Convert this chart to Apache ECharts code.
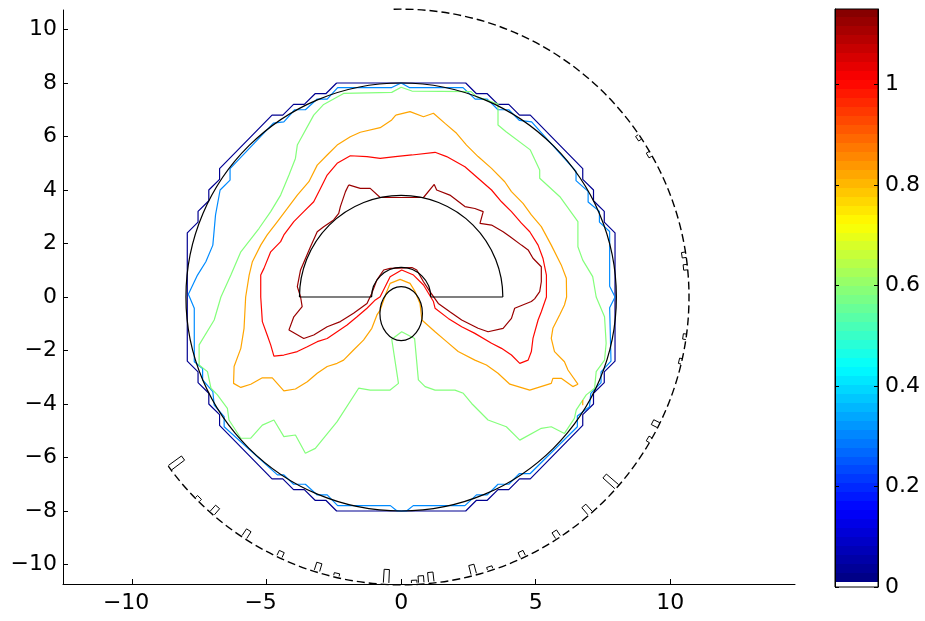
<!DOCTYPE html>
<html>
<head>
<meta charset="utf-8">
<script src="https://cdn.jsdelivr.net/npm/echarts@6/dist/echarts.min.js"></script>
<style>
html, body { margin: 0; padding: 0; background: #fff; }
#main { width: 925px; height: 621px; }
</style>
</head>
<body>
<div id="main"></div>
<script>
// tick labels
var xTicks = [-10, -5, 0, 5, 10];
var yTicks = [-10, -8, -6, -4, -2, 0, 2, 4, 6, 8, 10];
var cbTicks = [0, 0.2, 0.4, 0.6, 0.8, 1];
var cbRange = [0, 1.15];

// contour levels (colour comes from the colormap)
var levels = [0.02, 0.3, 0.58, 0.82, 1.0, 1.12];

// contour lines
var navyLine = [[-2.4,8.0],[2.4,8.0],[2.8,7.6],[3.2,7.6],[3.6,7.2],[4.0,7.2],[4.4,6.8],[4.8,6.8],[6.75,4.8],[6.75,4.4],[7.15,4.0],[7.15,3.6],[7.55,3.2],[7.55,2.8],[7.95,2.4],[7.95,-2.4],[7.55,-2.8],[7.55,-3.2],[7.15,-3.6],[7.15,-4.0],[6.75,-4.4],[6.75,-4.8],[4.8,-6.8],[4.4,-6.8],[4.0,-7.2],[3.6,-7.2],[3.2,-7.6],[2.8,-7.6],[2.4,-8.0],[-2.4,-8.0],[-2.8,-7.6],[-3.2,-7.6],[-3.6,-7.2],[-4.0,-7.2],[-4.4,-6.8],[-4.8,-6.8],[-6.75,-4.8],[-6.75,-4.4],[-7.15,-4.0],[-7.15,-3.6],[-7.55,-3.2],[-7.55,-2.8],[-7.95,-2.4],[-7.95,2.4],[-7.55,2.8],[-7.55,3.2],[-7.15,3.6],[-7.15,4.0],[-6.75,4.4],[-6.75,4.8],[-4.8,6.8],[-4.4,6.8],[-4.0,7.2],[-3.6,7.2],[-3.2,7.6],[-2.8,7.6],[-2.4,8.0]];

var blueLine = [[0,8.0],[0.3,7.83],[2.3,7.83],[2.75,7.4],[3.2,7.4],[3.6,7.0],[4.0,7.0],[4.4,6.6],[4.85,6.55],[6.5,4.7],[6.5,4.35],[6.95,3.95],[6.95,3.55],[7.37,3.2],[7.37,2.8],[7.75,2.45],[7.75,0.4],[7.95,0],[7.75,-0.4],[7.8,-2.4],[7.43,-2.8],[7.43,-3.2],[7.05,-3.6],[7.0,-4.1],[6.55,-4.45],[6.55,-4.85],[4.8,-6.6],[4.4,-6.6],[4.0,-7.0],[3.6,-7.0],[3.2,-7.4],[2.8,-7.4],[2.37,-7.8],[0.45,-7.8],[0.2,-8.0],[-0.15,-8.0],[-0.4,-7.8],[-2.36,-7.8],[-2.75,-7.4],[-3.12,-7.4],[-3.56,-7.0],[-4.0,-7.0],[-4.36,-6.65],[-4.6,-6.65],[-6.58,-4.85],[-6.58,-4.47],[-6.95,-4.04],[-7.0,-3.54],[-7.38,-3.1],[-7.38,-2.67],[-7.69,-2.42],[-7.69,-0.42],[-7.91,0.1],[-7.57,0.82],[-7.26,1.32],[-7.0,1.94],[-6.9,3.07],[-6.73,4.0],[-6.36,4.37],[-6.36,4.8],[-4.75,6.5],[-4.36,6.55],[-3.96,7.0],[-3.56,7.0],[-3.12,7.4],[-2.75,7.4],[-2.36,7.83],[-0.35,7.83],[0,8.0]];

var greenLine = [[0,7.84],[0.4,7.7],[2.6,7.68],[2.8,7.49],[3.6,7.21],[3.6,6.43],[3.9,6.18],[4.8,5.5],[5.15,4.75],[5.15,4.44],[5.9,3.75],[6.57,2.82],[6.57,1.88],[6.75,1.38],[7.12,0.76],[7.25,0],[7.56,-0.74],[7.62,-1.73],[7.56,-2.36],[7.25,-2.79],[7.19,-3.41],[6.88,-3.66],[6.51,-4.22],[6.44,-4.54],[6.07,-5.1],[5.58,-4.85],[5.21,-4.91],[4.41,-5.35],[3.91,-4.85],[3.23,-4.6],[2.62,-3.98],[2.31,-3.6],[2.0,-3.48],[1.26,-3.48],[0.89,-3.35],[0.64,-3.1],[0.5,-1.55],[0.02,-1.3],[-0.35,-1.58],[-0.1,-3.23],[-0.41,-3.48],[-1.15,-3.48],[-1.58,-3.41],[-2.38,-4.66],[-3.19,-5.66],[-3.56,-5.84],[-3.93,-5.16],[-4.36,-5.22],[-4.73,-4.6],[-5.16,-4.79],[-5.59,-5.28],[-5.96,-5.28],[-6.4,-4.6],[-6.46,-4.16],[-6.83,-3.66],[-7.07,-3.41],[-7.2,-2.79],[-7.51,-2.54],[-7.51,-1.79],[-6.95,-0.86],[-6.7,0],[-6.33,0.82],[-5.96,1.69],[-5.28,2.57],[-4.85,3.19],[-4.48,3.81],[-4.17,4.56],[-3.93,5.18],[-3.86,5.68],[-3.25,6.8],[-2.88,7.2],[-2.14,7.61],[-0.35,7.65],[0,7.84]];

var orangeLine = [[-0.2,6.8],[0.33,6.93],[0.83,6.74],[1.2,6.87],[1.63,6.49],[2.06,6.12],[2.43,5.68],[2.86,5.25],[3.36,4.81],[3.85,4.31],[4.1,3.94],[4.53,3.5],[4.84,3.07],[5.21,2.63],[5.58,1.94],[5.95,1.2],[6.14,0.7],[6.15,0],[6.07,-0.3],[5.89,-0.67],[5.64,-1.17],[5.58,-1.55],[5.7,-2.04],[6.07,-2.42],[6.2,-2.73],[6.57,-3.26],[6.38,-3.35],[5.95,-3.04],[5.64,-3.04],[5.58,-3.23],[4.78,-3.48],[4.04,-3.26],[3.6,-2.85],[3.17,-2.54],[2.74,-2.36],[2.12,-2.04],[1.69,-1.67],[1.26,-1.3],[0.77,-0.86],[0.7,-0.24],[0.52,0.2],[0.33,0.51],[-0.04,0.66],[-0.41,0.51],[-0.56,0.14],[-0.78,-0.49],[-0.9,-0.67],[-1.09,-1.17],[-1.4,-1.61],[-1.77,-1.98],[-2.14,-2.36],[-2.38,-2.48],[-2.75,-2.6],[-3.12,-2.85],[-3.49,-3.17],[-3.93,-3.44],[-4.36,-3.51],[-4.79,-3.02],[-5.16,-3.02],[-5.59,-3.26],[-5.96,-3.38],[-6.23,-3.23],[-6.21,-2.6],[-5.96,-1.92],[-5.84,-1.17],[-5.78,0],[-5.65,0.82],[-5.53,1.32],[-5.22,1.94],[-4.98,2.32],[-4.6,2.82],[-4.23,3.31],[-3.86,3.81],[-3.43,4.31],[-3.12,4.93],[-2.75,5.31],[-2.38,5.68],[-1.89,5.99],[-1.52,6.16],[-0.78,6.33],[-0.35,6.62],[-0.2,6.8]];
var orangeBit = [[6.75,-3.85],[6.75,-4.05]];

var redLine = [[-0.22,5.25],[0.4,5.31],[1.26,5.41],[1.69,5.25],[2.37,4.87],[2.86,4.44],[3.36,4.0],[3.73,3.56],[4.1,3.19],[4.47,2.76],[4.78,2.44],[5.09,1.94],[5.27,1.45],[5.4,0.82],[5.4,0],[5.21,-0.55],[5.09,-0.86],[4.9,-1.55],[4.84,-2.04],[4.72,-2.36],[4.41,-2.48],[4.1,-2.17],[3.73,-1.92],[3.36,-1.73],[2.74,-1.36],[2.25,-1.11],[1.75,-0.8],[1.26,-0.42],[1.2,-0.17],[0.83,0.45],[0.46,0.82],[0.02,1.01],[-0.41,0.76],[-0.78,0.01],[-0.96,-0.11],[-1.27,-0.42],[-1.64,-0.74],[-2.01,-1.05],[-2.38,-1.3],[-2.75,-1.55],[-3.12,-1.67],[-3.49,-1.86],[-3.86,-2.04],[-4.36,-2.17],[-4.73,-2.21],[-4.85,-1.79],[-4.98,-1.42],[-5.16,-0.92],[-5.22,0],[-5.22,0.82],[-5.1,1.07],[-4.85,1.69],[-4.48,2.07],[-4.36,2.32],[-3.99,2.82],[-3.62,3.19],[-3.25,3.56],[-3.0,4.06],[-2.75,4.56],[-2.38,5.0],[-1.89,5.28],[-1.27,5.25],[-0.78,5.18],[-0.22,5.25]];

var darkRedLine = [[-1.95,4.19],[-1.52,4.06],[-1.15,4.06],[-0.78,3.72],[0.83,3.72],[1.23,4.21],[1.32,4.0],[1.81,3.81],[2.37,3.38],[2.74,3.31],[3.05,3.19],[2.93,2.75],[3.36,2.69],[3.79,2.44],[4.04,2.26],[4.47,1.94],[4.72,1.76],[4.9,1.45],[5.21,1.13],[5.21,0.57],[5.15,0.2],[4.96,-0.07],[4.84,-0.17],[4.22,-0.42],[4.1,-0.8],[3.79,-1.17],[3.23,-1.3],[2.86,-1.17],[2.25,-0.86],[1.81,-0.55],[1.38,-0.24],[1.07,0.2],[0.83,0.57],[0.58,1.01],[0.4,1.1],[-0.41,1.07],[-0.65,1.01],[-0.9,0.64],[-1.09,0.14],[-1.27,-0.24],[-1.77,-0.61],[-2.26,-0.92],[-2.75,-1.11],[-3.25,-1.42],[-3.62,-1.55],[-4.17,-1.23],[-3.99,-0.74],[-3.68,-0.36],[-3.74,0.01],[-3.86,0.39],[-3.74,1.01],[-3.37,1.88],[-3.12,2.44],[-2.88,2.63],[-2.51,2.88],[-2.32,3.13],[-2.26,3.38],[-2.07,3.94],[-1.95,4.19]];

// black outlines: [cx, cy, rx, ry]
var bodyOutline = [[0, 0, 8, 8]];
var coreEllipse = [[0, -0.62, 0.79, 1.01]];
// dome: [outer radius, hub radius]
var dome = [[3.78, 1.1]];

// dashed ring with small bars pointing inward
var ringRadius = 10.7;
var ringFrom = 91.5, ringTo = 216;   // degrees, counter-clockwise from +x
var barAngles  = [34, 30, 8.5, 6, -8, -13, -26.6, -30, -41.5, -49, -57, -65, -72, -75.4, -84, -86, -87.4, -93, -103, -107, -115, -123, -131, -135, -143.4];
var barLengths = [0.12, 0.12, 0.15, 0.15, 0.12, 0.1, 0.25, 0.12, 0.6, 0.35, 0.25, 0.2, 0.1, 0.35, 0.35, 0.25, 0.1, 0.5, 0.1, 0.3, 0.2, 0.3, 0.3, 0.1, 0.6];

function jet(t) {
	var c = function (v) { return Math.max(0, Math.min(1, v)); };
	var r = c(1.5 - Math.abs(4 * t - 3));
	var g = c(1.5 - Math.abs(4 * t - 2));
	var b = c(1.5 - Math.abs(4 * t - 1));
	return 'rgb(' + Math.round(r * 255) + ',' + Math.round(g * 255) + ',' + Math.round(b * 255) + ')';
}
function levelColor(v) {
	return jet(v / cbRange[1]);
}
function minus(v) {
	return v < 0 ? '\u2212' + Math.abs(v) : String(v);
}

var font = { fontFamily: '"DejaVu Sans", sans-serif', fontSize: 22, color: '#000' };

// stepped colour stops for the colorbar (64 jet bands over a thin white band)
var whiteTop = 0.011 / cbRange[1];
var stops = [{ offset: 0, color: '#fff' }, { offset: whiteTop, color: '#fff' }];
for (var i = 0; i < 64; i++) {
	var a = whiteTop + (1 - whiteTop) * i / 64;
	var b = whiteTop + (1 - whiteTop) * (i + 1) / 64;
	var col = jet((i + 0.5) / 64);
	stops.push({ offset: a, color: col });
	stops.push({ offset: b, color: col });
}

var barData = barAngles.map(function (ang, k) { return [ang, barLengths[k]]; });

function contour(data, level) {
	return {
		type: 'line',
		data: data,
		symbol: 'none',
		showSymbol: false,
		silent: true,
		z: 3,
		lineStyle: { width: 1.2, color: levelColor(level) }
	};
}

var myChart = echarts.init(document.getElementById('main'), null, { renderer: 'canvas' });

var option = {
	animation: false,
	backgroundColor: '#fff',
	grid: [
		{ left: 63, top: 10, width: 732, height: 574, outerBoundsMode: 'none' },
		{ left: 835, top: 9, width: 43, height: 578, outerBoundsMode: 'none' }
	],
	xAxis: [{
		type: 'value', gridIndex: 0, min: -12.57, max: 14.64,
		axisLine: { onZero: false, lineStyle: { color: '#000', width: 1 } },
		axisTick: { inside: true, length: 5, customValues: xTicks, lineStyle: { color: '#000' } },
		axisLabel: Object.assign({
			customValues: xTicks, margin: 8,
			// negative labels sit a little left of their tick, as in the original
			formatter: function (v) { return v < 0 ? '{neg|' + minus(v) + '}' : minus(v); },
			rich: { neg: { fontFamily: font.fontFamily, fontSize: 22, color: '#000', padding: [0, 12, 0, 0] } }
		}, font),
		splitLine: { show: false }
	}, {
		type: 'value', gridIndex: 1, min: 0, max: 1, show: false
	}],
	yAxis: [{
		type: 'value', gridIndex: 0, min: -10.73, max: 10.73,
		axisLine: { show: true, onZero: false, lineStyle: { color: '#000', width: 1 } },
		axisTick: { show: true, inside: true, length: 5, customValues: yTicks, lineStyle: { color: '#000' } },
		axisLabel: Object.assign({ customValues: yTicks, margin: 6, formatter: minus }, font),
		splitLine: { show: false }
	}, {
		type: 'value', gridIndex: 1, position: 'right', min: cbRange[0], max: cbRange[1], z: 10,
		axisLine: { show: true, onZero: false, lineStyle: { color: '#000', width: 1 } },
		axisTick: { show: true, inside: true, length: 4, customValues: cbTicks, lineStyle: { color: '#000' } },
		axisLabel: Object.assign({ customValues: cbTicks, margin: 7, formatter: function (v) { return String(v); } }, font),
		splitLine: { show: false }
	}, {
		type: 'value', gridIndex: 1, position: 'left', min: cbRange[0], max: cbRange[1], z: 10,
		axisLine: { show: true, onZero: false, lineStyle: { color: '#000', width: 1 } },
		axisTick: { show: true, inside: true, length: 4, customValues: cbTicks, lineStyle: { color: '#000' } },
		axisLabel: { show: false },
		splitLine: { show: false }
	}],
	series: [
		contour(navyLine, levels[0]),
		contour(blueLine, levels[1]),
		contour(greenLine, levels[2]),
		contour(orangeLine, levels[3]),
		contour(orangeBit, levels[3]),
		contour(redLine, levels[4]),
		contour(darkRedLine, levels[5]),
		{
			// outer body circle and the core ellipse
			type: 'custom',
			silent: true,
			z: 4,
			data: bodyOutline.concat(coreEllipse),
			renderItem: function (params, api) {
				var c = api.coord([api.value(0), api.value(1)]);
				var s = api.size([api.value(2), api.value(3)]);
				return {
					type: 'ellipse',
					shape: { cx: c[0], cy: c[1], rx: s[0], ry: s[1] },
					style: { fill: null, stroke: '#000', lineWidth: 1.2 }
				};
			}
		},
		{
			// half dome with the notch over the core
			type: 'custom',
			silent: true,
			z: 4,
			data: dome,
			renderItem: function (params, api) {
				var R = api.value(0), r = api.value(1);
				var c = api.coord([0, 0]);
				var pR = api.size([R, 0])[0];
				var pr = api.size([r, 0])[0];
				var st = { fill: null, stroke: '#000', lineWidth: 1.2 };
				var l1 = api.coord([-R, 0]), l2 = api.coord([-r, 0]);
				var r1 = api.coord([r, 0]), r2 = api.coord([R, 0]);
				return {
					type: 'group',
					children: [
						{ type: 'arc', shape: { cx: c[0], cy: c[1], r: pR, startAngle: Math.PI, endAngle: 2 * Math.PI, clockwise: true }, style: st },
						{ type: 'arc', shape: { cx: c[0], cy: c[1], r: pr, startAngle: Math.PI, endAngle: 2 * Math.PI, clockwise: true }, style: st },
						{ type: 'line', shape: { x1: l1[0], y1: l1[1], x2: l2[0], y2: l2[1] }, style: st },
						{ type: 'line', shape: { x1: r1[0], y1: r1[1], x2: r2[0], y2: r2[1] }, style: st }
					]
				};
			}
		},
		{
			// dashed ring
			type: 'custom',
			silent: true,
			z: 4,
			data: [[ringRadius, ringFrom, ringTo]],
			renderItem: function (params, api) {
				var c = api.coord([0, 0]);
				var pr = api.size([api.value(0), 0])[0];
				return {
					type: 'arc',
					shape: { cx: c[0], cy: c[1], r: pr, startAngle: -api.value(1) * Math.PI / 180, endAngle: (360 - api.value(2)) * Math.PI / 180, clockwise: true },
					style: { fill: null, stroke: '#000', lineWidth: 1.4, lineDash: [8, 4] }
				};
			}
		},
		{
			// small radial bars on the ring
			type: 'custom',
			silent: true,
			z: 4,
			data: barData,
			renderItem: function (params, api) {
				var ang = api.value(0), len = api.value(1);
				var h = 0.55;
				var a1 = (ang - h) * Math.PI / 180, a2 = (ang + h) * Math.PI / 180;
				var R = ringRadius, R2 = ringRadius - len;
				var pts = [
					api.coord([R * Math.cos(a1), R * Math.sin(a1)]),
					api.coord([R2 * Math.cos(a1), R2 * Math.sin(a1)]),
					api.coord([R2 * Math.cos(a2), R2 * Math.sin(a2)]),
					api.coord([R * Math.cos(a2), R * Math.sin(a2)])
				];
				return {
					type: 'polyline',
					shape: { points: pts },
					style: { fill: null, stroke: '#000', lineWidth: 1 }
				};
			}
		},
		{
			// colorbar
			type: 'custom',
			silent: true,
			xAxisIndex: 1,
			yAxisIndex: 1,
			z: 1,
			data: [cbRange],
			renderItem: function (params, api) {
				var p0 = api.coord([0, api.value(0)]);
				var p1 = api.coord([1, api.value(1)]);
				return {
					type: 'rect',
					shape: { x: p0[0], y: p1[1], width: p1[0] - p0[0], height: p0[1] - p1[1] },
					style: { fill: new echarts.graphic.LinearGradient(0, 1, 0, 0, stops), stroke: '#000', lineWidth: 1 }
				};
			}
		}
	]
};

myChart.setOption(option);
</script>
</body>
</html>
